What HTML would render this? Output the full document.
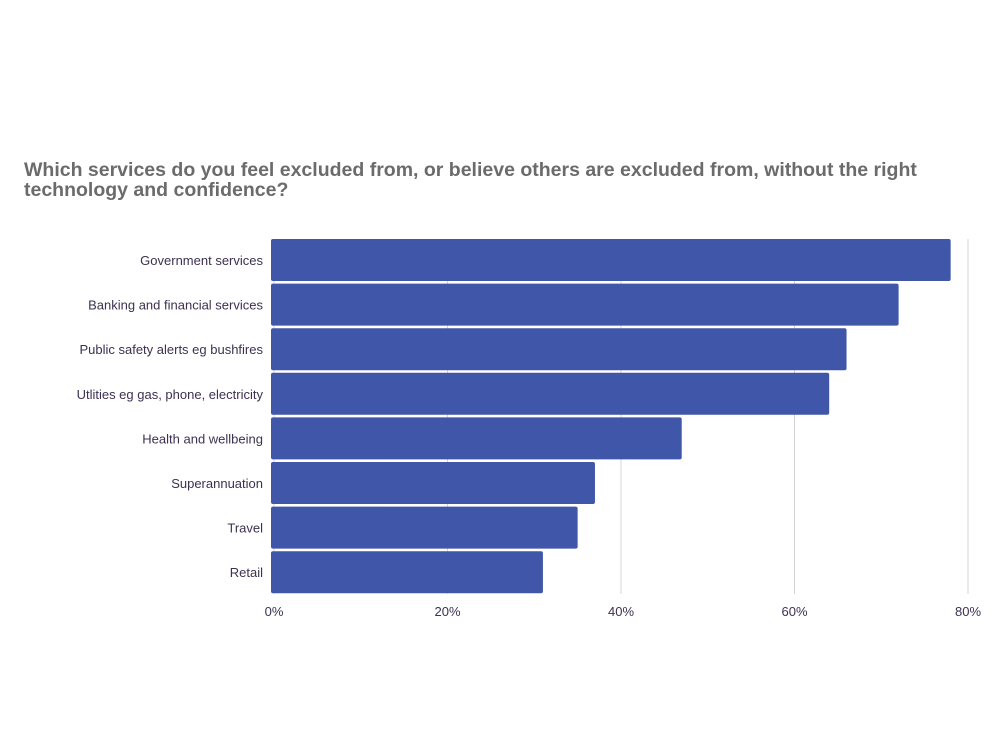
<!DOCTYPE html>
<html><head><meta charset="utf-8"><style>
body{margin:0;background:#fff;font-family:"Liberation Sans",sans-serif;}
svg text{font-family:"Liberation Sans",sans-serif;}
</style></head><body>
<svg width="1000" height="750" viewBox="0 0 1000 750">
<text x="24" y="176" font-size="19.5" font-weight="bold" fill="#6b6b6b"><tspan x="24" y="176">Which services do you feel excluded from, or believe others are excluded from, without the right</tspan><tspan x="24" y="196">technology and confidence?</tspan></text>
<g id="grid"></g><g id="bars"></g><g id="labels"></g>
</svg>
<script>
const categories=["Government services","Banking and financial services","Public safety alerts eg bushfires","Utlities eg gas, phone, electricity","Health and wellbeing","Superannuation","Travel","Retail"];
const values=[78,72,66,64,47,37,35,31];
const ticks=[0,20,40,60,80];
const ticksLabels=["0%","20%","40%","60%","80%"];
const NS="http://www.w3.org/2000/svg";
const x0=274,pxPer=8.675,yTop=239,step=44.6,bh=42;
const xs=v=>x0+v*pxPer;
const g=document.getElementById('grid'),b=document.getElementById('bars'),l=document.getElementById('labels');
ticks.forEach((t,i)=>{
 const ln=document.createElementNS(NS,'line');
 
 
 ln.setAttribute('x1',xs(t));ln.setAttribute('x2',xs(t));ln.setAttribute('y1',yTop);ln.setAttribute('y2',yTop+step*8-2);
 ln.setAttribute('stroke','#d4d4d8');ln.setAttribute('stroke-width','1');g.appendChild(ln);
 const tx=document.createElementNS(NS,'text');
 
 
 tx.setAttribute('x',xs(t));tx.setAttribute('y',616);tx.setAttribute('text-anchor','middle');tx.setAttribute('font-size','13');tx.setAttribute('fill','#3c3151');
 tx.textContent=ticksLabels[i];l.appendChild(tx);
});
categories.forEach((c,i)=>{
 const y=yTop+i*step;
 const r=document.createElementNS(NS,'rect');
 
 
 r.setAttribute('x',x0-3);r.setAttribute('y',y);r.setAttribute('width',xs(values[i])-x0+3);r.setAttribute('height',bh);r.setAttribute('rx',2);
 r.setAttribute('fill','#4056a8');b.appendChild(r);
 const tx=document.createElementNS(NS,'text');
 
 
 tx.setAttribute('x',263);tx.setAttribute('y',y+bh/2+5);tx.setAttribute('text-anchor','end');tx.setAttribute('font-size','13');tx.setAttribute('fill','#3c3151');
 tx.textContent=c;l.appendChild(tx);
});
</script>
</body></html>
